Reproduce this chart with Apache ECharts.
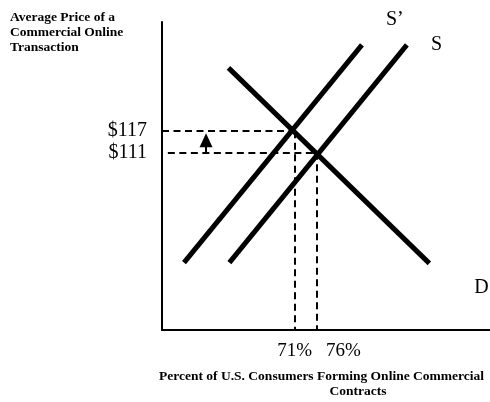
<!DOCTYPE html>
<html>
<head>
<meta charset="utf-8">
<script src="https://cdn.jsdelivr.net/npm/echarts@6/dist/echarts.min.js"></script>
<style>
html, body { margin: 0; padding: 0; background: #fff; }
#chart { width: 490px; height: 402px; }
</style>
</head>
<body>
<div id="chart"></div>
<script>
// ---- Data ----
const xTickValues = [71, 76];
const xTickLabels = ['71%', '76%'];
const yTickValues = [111, 117];
const yTickLabels = ['$111', '$117'];
const demandD = [[56.3, 134.7], [101.0, 80.1]];
const supplyS = [[56.5, 80.3], [96.0, 141.1]];
const supplySPrime = [[46.4, 80.3], [86.0, 141.1]];
const equilibria = [[71, 117], [76, 111]];
const priceArrow = [[51.3, 111], [51.3, 114.5]];
const curveNames = ['D', 'S', 'S\u2019'];

const serif = "'Liberation Serif', 'Times New Roman', serif";
const xMin = 41.5, xMax = 114.5, yMin = 61.5, yMax = 147.5;

const dash = { color: '#000', width: 2, type: [7, 4.5] };
const dashedLines = [];
equilibria.forEach(function (p, i) {
  dashedLines.push([{ coord: [i === 0 ? xMin : xMin + 1.3, p[1]] }, { coord: [p[0], p[1]] }]);
  dashedLines.push([{ coord: [p[0], p[1]] }, { coord: [p[0], yMin] }]);
});

const chart = echarts.init(document.getElementById('chart'), null, { renderer: 'canvas' });
chart.setOption({
  animation: false,
  backgroundColor: '#fff',
  title: {
    text: 'Average Price of a\nCommercial Online\nTransaction',
    left: 10, top: 10, padding: 0,
    textStyle: { fontFamily: serif, fontWeight: 'bold', fontSize: 13.5, lineHeight: 15, color: '#000' }
  },
  grid: { left: 162, right: 0, top: 22, bottom: 72, containLabel: false, outerBoundsMode: 'none' },
  xAxis: {
    type: 'value', min: xMin, max: xMax,
    axisLine: { show: true, lineStyle: { color: '#000', width: 2 } },
    axisTick: { show: false },
    splitLine: { show: false },
    axisLabel: {
      customValues: xTickValues,
      margin: 12,
      fontFamily: serif, fontSize: 19, color: '#000',
      formatter: function (v) {
        const i = xTickValues.indexOf(v);
        return i === 0 ? '{a|' + xTickLabels[i] + '}' : '{b|' + xTickLabels[i] + '}';
      },
      rich: {
        a: { fontFamily: serif, fontSize: 19, color: '#000' },
        b: { fontFamily: serif, fontSize: 19, color: '#000', padding: [0, 0, 0, 53] }
      }
    },
    name: '{a|Percent of U.S. Consumers Forming Online Commercial}\n{b|Contracts}',
    nameLocation: 'middle',
    nameGap: 39,
    nameTextStyle: {
      fontFamily: serif, fontWeight: 'bold', fontSize: 13.5, lineHeight: 15, color: '#000',
      rich: {
        a: { fontFamily: serif, fontWeight: 'bold', fontSize: 13.5, lineHeight: 15, color: '#000', padding: [0, 9, 0, 0] },
        b: { fontFamily: serif, fontWeight: 'bold', fontSize: 13.5, lineHeight: 15, color: '#000', padding: [0, 0, 0, 64] }
      }
    }
  },
  yAxis: {
    type: 'value', min: yMin, max: yMax,
    axisLine: { show: true, lineStyle: { color: '#000', width: 2 } },
    axisTick: { show: false },
    splitLine: { show: false },
    axisLabel: {
      customValues: yTickValues,
      margin: 15,
      fontFamily: serif, fontSize: 20, color: '#000',
      formatter: function (v) { return yTickLabels[yTickValues.indexOf(v)]; }
    }
  },
  series: [
    {
      name: curveNames[0], type: 'line', data: demandD, symbol: 'none', silent: true,
      lineStyle: { color: '#000', width: 5 },
      endLabel: { show: true, formatter: curveNames[0], fontFamily: serif, fontSize: 20, color: '#000', offset: [37, 24] },
      markLine: {
        silent: true, symbol: 'none', label: { show: false },
        lineStyle: dash, emphasis: { disabled: true },
        data: dashedLines
      }
    },
    {
      name: curveNames[1], type: 'line', data: supplyS, symbol: 'none', silent: true,
      lineStyle: { color: '#000', width: 5 },
      endLabel: { show: true, formatter: curveNames[1], fontFamily: serif, fontSize: 20, color: '#000', offset: [16, 0] }
    },
    {
      name: curveNames[2], type: 'line', data: supplySPrime, symbol: 'none', silent: true,
      lineStyle: { color: '#000', width: 5 },
      endLabel: { show: true, formatter: curveNames[2], fontFamily: serif, fontSize: 20, color: '#000', offset: [16, -25] },
      markLine: {
        silent: true, symbol: ['none', 'triangle'], symbolSize: [13, 14],
        label: { show: false },
        lineStyle: { color: '#000', width: 2, type: 'solid' },
        itemStyle: { color: '#000' },
        emphasis: { disabled: true },
        data: [[{ coord: priceArrow[0] }, { coord: priceArrow[1] }]]
      }
    }
  ]
});
</script>
</body>
</html>
